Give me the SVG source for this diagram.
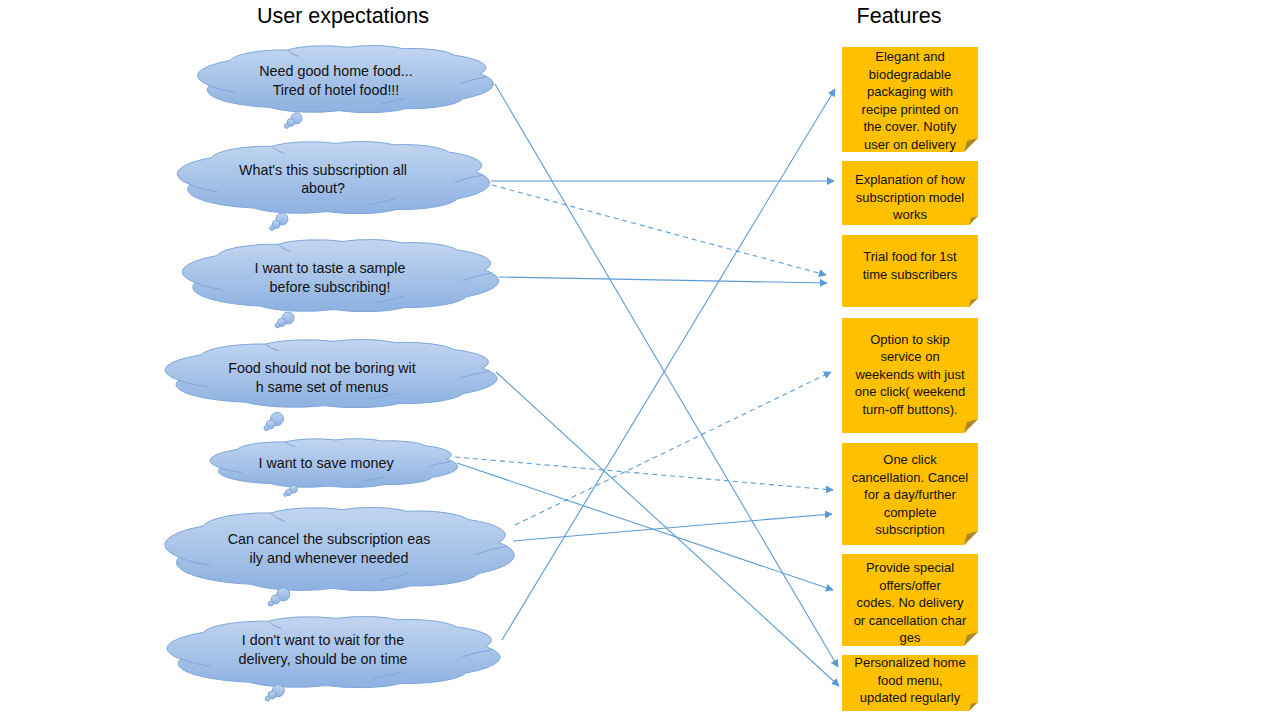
<svg xmlns="http://www.w3.org/2000/svg" xmlns:xlink="http://www.w3.org/1999/xlink" width="1280" height="720" viewBox="0 0 1280 720">
<style>
.title{font-family:"Liberation Sans",Arial,sans-serif;font-size:21.5px;fill:#000;text-anchor:middle}
.ct{font-family:"Liberation Sans",Arial,sans-serif;font-size:14.3px;fill:#111;text-anchor:middle}
.nt{font-family:"Liberation Sans",Arial,sans-serif;font-size:13px;fill:#111;text-anchor:middle}
.cloud{fill:url(#cg);stroke:#7ea6d9;stroke-width:1}
.crease{fill:none;stroke:#7ea6d9;stroke-width:1}
.bub{fill:url(#cg);stroke:#7ea6d9;stroke-width:1}
.note{fill:#ffc000}
.fold{fill:#a8892e}
.conn{stroke:#5b9bd5;stroke-width:1.1;fill:none;marker-end:url(#ah)}
.dash{stroke-dasharray:5 4}
</style>
<defs>
<linearGradient id="cg" x1="0" y1="0" x2="0" y2="1">
<stop offset="0" stop-color="#c2d6f1"/>
<stop offset="1" stop-color="#8db1e1"/>
</linearGradient>
<path id="cp" vector-effect="non-scaling-stroke" d="M3,60 A29,29 0 0 1 10,22 A19,19 0 0 1 30,6 A16,16 0 0 1 51,2 A14.5,14.5 0 0 1 70,4 A15.5,15.5 0 0 1 88,14 A22,22 0 0 1 97,42 A29,29 0 0 1 91,80 A19,19 0 0 1 71,95 A17.5,17.5 0 0 1 48,98 A18.5,18.5 0 0 1 24,93 A27,27 0 0 1 3,60 Z"/>
<path id="cr" vector-effect="non-scaling-stroke" d="M90,57 Q94,50 99,47 M62,88 Q67,84 71,79 M3,60 Q6,66 12,70 M30,6 Q31,12 34,16"/>
<marker id="ah" viewBox="0 0 10 10" refX="9" refY="5" markerWidth="8" markerHeight="8" markerUnits="userSpaceOnUse" orient="auto">
<path d="M0,0 L10,5 L0,10 Z" fill="#5b9bd5"/>
</marker>
</defs>
<rect width="1280" height="720" fill="#fff"/>
<text class="title" x="343" y="23">User expectations</text>
<text class="title" x="899" y="23">Features</text>

<g id="cloud1">
<use xlink:href="#cp" class="cloud" transform="translate(201,46) scale(2.88,0.66)"/>
<use xlink:href="#cr" class="crease" transform="translate(201,46) scale(2.88,0.66)"/>
<circle class="bub" cx="296.5" cy="118.3" r="5.5"/><circle class="bub" cx="290.7" cy="122.5" r="3.8"/><circle class="bub" cx="286.7" cy="126" r="2.3"/>
<text class="ct" x="336" y="76">Need good home food...</text><text class="ct" x="336" y="95">Tired of hotel food!!!</text>
</g>
<g id="cloud2">
<use xlink:href="#cp" class="cloud" transform="translate(181,142) scale(3.04,0.71)"/>
<use xlink:href="#cr" class="crease" transform="translate(181,142) scale(3.04,0.71)"/>
<circle class="bub" cx="282" cy="219" r="6"/><circle class="bub" cx="276" cy="224.5" r="4"/><circle class="bub" cx="272" cy="228" r="2.3"/>
<text class="ct" x="323" y="175">What's this subscription all</text><text class="ct" x="323" y="193">about?</text>
</g>
<g id="cloud3">
<use xlink:href="#cp" class="cloud" transform="translate(186,240) scale(3.08,0.71)"/>
<use xlink:href="#cr" class="crease" transform="translate(186,240) scale(3.08,0.71)"/>
<circle class="bub" cx="288" cy="318" r="6"/><circle class="bub" cx="281.5" cy="322.5" r="4"/><circle class="bub" cx="277.5" cy="325.5" r="2.3"/>
<text class="ct" x="330" y="273">I want to taste a sample</text><text class="ct" x="330" y="292">before subscribing!</text>
</g>
<g id="cloud4">
<use xlink:href="#cp" class="cloud" transform="translate(169,340) scale(3.23,0.67)"/>
<use xlink:href="#cr" class="crease" transform="translate(169,340) scale(3.23,0.67)"/>
<circle class="bub" cx="277" cy="419" r="6.5"/><circle class="bub" cx="270.5" cy="424.5" r="4.3"/><circle class="bub" cx="266.5" cy="428" r="2.5"/>
<text class="ct" x="322" y="373">Food should not be boring wit</text><text class="ct" x="322" y="392">h same set of menus</text>
</g>
<g id="cloud5">
<use xlink:href="#cp" class="cloud" transform="translate(213,439) scale(2.41,0.48)"/>
<use xlink:href="#cr" class="crease" transform="translate(213,439) scale(2.41,0.48)"/>
<circle class="bub" cx="293.3" cy="489" r="4"/><circle class="bub" cx="288.5" cy="492.5" r="3"/><circle class="bub" cx="285.5" cy="494.5" r="1.8"/>
<text class="ct" x="326" y="468">I want to save money</text>
</g>
<g id="cloud6">
<use xlink:href="#cp" class="cloud" transform="translate(169,508) scale(3.40,0.82)"/>
<use xlink:href="#cr" class="crease" transform="translate(169,508) scale(3.40,0.82)"/>
<circle class="bub" cx="283.3" cy="594.3" r="6.5"/><circle class="bub" cx="275.5" cy="599.5" r="4.5"/><circle class="bub" cx="270.7" cy="603.5" r="2.5"/>
<text class="ct" x="329" y="544">Can cancel the subscription eas</text><text class="ct" x="329" y="563">ily and whenever needed</text>
</g>
<g id="cloud7">
<use xlink:href="#cp" class="cloud" transform="translate(171,617) scale(3.24,0.70)"/>
<use xlink:href="#cr" class="crease" transform="translate(171,617) scale(3.24,0.70)"/>
<circle class="bub" cx="278.3" cy="690.7" r="6"/><circle class="bub" cx="272" cy="695" r="4"/><circle class="bub" cx="267.5" cy="698.7" r="2.3"/>
<text class="ct" x="323" y="645">I don't want to wait for the</text><text class="ct" x="323" y="664">delivery, should be on time</text>
</g>

<g id="note1">
<polygon class="note" points="842,47 978,47 978,138 964,152 842,152"/><polygon class="fold" points="964,152 967,141 978,138"/>
<text class="nt" x="910" y="61">Elegant and</text><text class="nt" x="910" y="79">biodegradable</text><text class="nt" x="910" y="96">packaging with</text><text class="nt" x="910" y="114">recipe printed on</text><text class="nt" x="910" y="131">the cover. Notify</text><text class="nt" x="910" y="149">user on delivery</text>
</g>
<g id="note2">
<polygon class="note" points="842,161 978,161 978,216 969,225 842,225"/><polygon class="fold" points="969,225 971,218 978,216"/>
<text class="nt" x="910" y="184">Explanation of how</text><text class="nt" x="910" y="202">subscription model</text><text class="nt" x="910" y="219">works</text>
</g>
<g id="note3">
<polygon class="note" points="842,235 978,235 978,298 969,307 842,307"/><polygon class="fold" points="969,307 971,300 978,298"/>
<text class="nt" x="910" y="261">Trial food for 1st</text><text class="nt" x="910" y="279">time subscribers</text>
</g>
<g id="note4">
<polygon class="note" points="842,318 978,318 978,419 964,433 842,433"/><polygon class="fold" points="964,433 967,422 978,419"/>
<text class="nt" x="910" y="344">Option to skip</text><text class="nt" x="910" y="361">service on</text><text class="nt" x="910" y="379">weekends with just</text><text class="nt" x="910" y="396">one click( weekend</text><text class="nt" x="910" y="414">turn-off buttons).</text>
</g>
<g id="note5">
<polygon class="note" points="842,443 978,443 978,531 964,545 842,545"/><polygon class="fold" points="964,545 967,534 978,531"/>
<text class="nt" x="910" y="464">One click</text><text class="nt" x="910" y="482">cancellation. Cancel</text><text class="nt" x="910" y="499">for a day/further</text><text class="nt" x="910" y="517">complete</text><text class="nt" x="910" y="534">subscription</text>
</g>
<g id="note6">
<polygon class="note" points="842,554 978,554 978,632 964,646 842,646"/><polygon class="fold" points="964,646 967,635 978,632"/>
<text class="nt" x="910" y="572">Provide special</text><text class="nt" x="910" y="590">offers/offer</text><text class="nt" x="910" y="607">codes. No delivery</text><text class="nt" x="910" y="625">or cancellation char</text><text class="nt" x="910" y="642">ges</text>
</g>
<g id="note7">
<polygon class="note" points="842,655 978,655 978,702 969,711 842,711"/><polygon class="fold" points="969,711 971,704 978,702"/>
<text class="nt" x="910" y="667">Personalized home</text><text class="nt" x="910" y="685">food menu,</text><text class="nt" x="910" y="702">updated regularly</text>
</g>

<g id="connectors">
<line class="conn" x1="495" y1="84" x2="838" y2="667"/>
<line class="conn" x1="491" y1="181" x2="834" y2="181"/>
<line class="conn dash" x1="492" y1="185" x2="826" y2="275"/>
<line class="conn" x1="499" y1="277" x2="827" y2="283"/>
<line class="conn" x1="496" y1="372" x2="839" y2="686"/>
<line class="conn dash" x1="455" y1="457" x2="833" y2="490"/>
<line class="conn" x1="457" y1="463" x2="833" y2="590"/>
<line class="conn dash" x1="515" y1="525" x2="831" y2="372"/>
<line class="conn" x1="513" y1="541" x2="832" y2="514"/>
<line class="conn" x1="502" y1="640" x2="835" y2="89"/>
</g>
</svg>
